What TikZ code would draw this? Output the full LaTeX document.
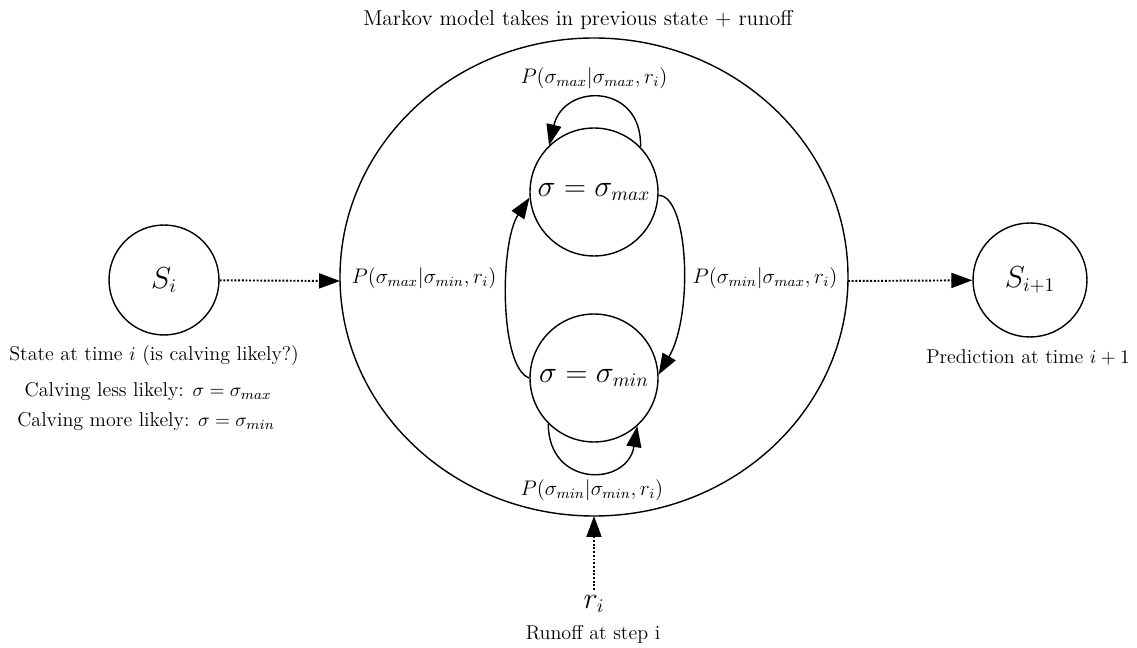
\documentclass[tikz,border=0pt]{standalone}
\usetikzlibrary{arrows.meta}
\begin{document}
\begin{tikzpicture}[x=0.02cm,y=0.02cm,
  state/.style={draw,circle,line width=0.8pt,inner sep=0pt,font=\fontsize{16.3}{19}\selectfont},
  tip/.style={-{Triangle[length=0.42cm,width=0.3cm]}},
  conn/.style={tip,line width=0.8pt},
  dotconn/.style={tip,line width=1.1pt,dash pattern=on 1.1pt off 1pt},
  lbl/.style={inner sep=1pt,font=\fontsize{11.4}{14}\selectfont},
  plbl/.style={inner sep=1pt,font=\fontsize{11.9}{14}\selectfont}]
\useasboundingbox (0,0) rectangle (1137,-648);
% big ellipse
\draw[line width=0.8pt] (594,-277) ellipse [x radius=254, y radius=239];
\node[inner sep=1pt,font=\fontsize{12.2}{15}\selectfont] (title) at (578,-20) {Markov model takes in previous state + runoff};
\coordinate (ewest) at (340,-281);
\coordinate (eeast) at (848,-281);
\coordinate (esouth) at (594,-516);
\coordinate (rtop) at (594,-590);
% states
\node[state,minimum size=2.2cm] (si) at (164,-280) {$S_i$};
\node[state,minimum size=2.28cm] (si1) at (1030,-280) {$S_{i+1}$};
\node[state,minimum size=2.56cm,font=\fontsize{16}{19}\selectfont] (max) at (594,-192) {$\sigma=\sigma_{max}$};
\node[state,minimum size=2.56cm,font=\fontsize{16}{19}\selectfont] (min) at (594,-378) {$\sigma=\sigma_{min}$};
% labels
\node[lbl] (lsi) at (154,-356) {State at time $i$ (is calving likely?)};
\node[lbl] (lless) at (148,-392) {Calving less likely: $\sigma=\sigma_{max}$};
\node[lbl] (lmore) at (146,-422) {Calving more likely: $\sigma=\sigma_{min}$};
\node[lbl] (lsi1) at (1028,-357) {Prediction at time $i+1$};
\node[inner sep=1pt,font=\fontsize{16.3}{19}\selectfont] (ri) at (594,-604) {$r_i$};
\node[lbl] (lri) at (593,-634) {Runoff at step i};
\node[plbl] (pmaxmax) at (594,-78) {$P(\sigma_{max}|\sigma_{max},r_i)$};
\node[plbl] (pminmin) at (592,-490) {$P(\sigma_{min}|\sigma_{min},r_i)$};
\node[plbl] (pmaxmin) at (424,-278) {$P(\sigma_{max}|\sigma_{min},r_i)$};
\node[plbl] (pminmax) at (765,-278) {$P(\sigma_{min}|\sigma_{max},r_i)$};
% connectors
\draw[dotconn] (si) -- (ewest);
\draw[dotconn] (eeast) -- (si1);
\draw[dotconn] (rtop) -- (esouth);
\draw[conn] (min.west) .. controls +(-30,10) and +(-30,-45) .. (max.185);
\draw[conn] (max.357) .. controls +(30,0) and +(35,60) .. (min.3);
\draw[conn] (max.44) .. controls +(2,64) and +(15,63) .. (max.134);
\draw[conn] (min.225) .. controls +(0,-64) and +(-10,-61) .. (min.312);
\end{tikzpicture}
\end{document}
